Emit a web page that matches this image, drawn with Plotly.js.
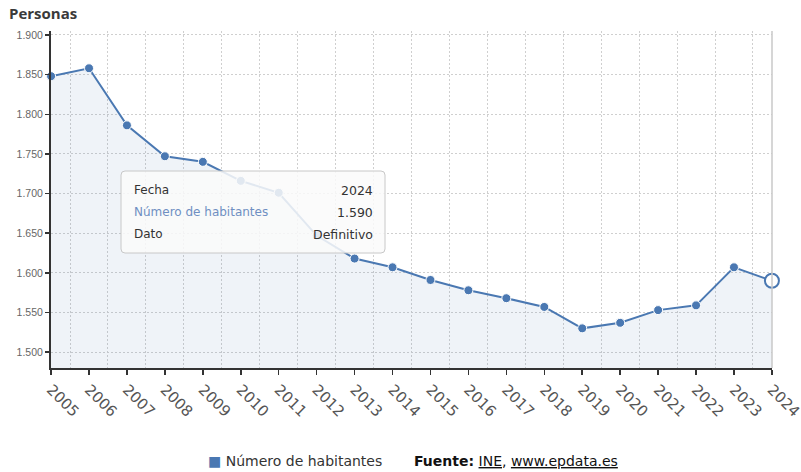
<!DOCTYPE html>
<html>
<head>
<meta charset="utf-8">
<script src="https://cdn.plot.ly/plotly-3.0.1.min.js"></script>
<style>html,body{margin:0;padding:0;background:#fff;}#chart{width:801px;height:472px;}</style>
</head>
<body>
<div id="chart"></div>
<script>
// Data
var years = [2005, 2006, 2007, 2008, 2009, 2010, 2011, 2012, 2013, 2014, 2015, 2016, 2017, 2018, 2019, 2020, 2021, 2022, 2023, 2024];
var habitantes = [1848, 1858, 1786, 1747, 1740, 1716, 1701, 1647, 1618, 1607, 1591, 1578, 1568, 1557, 1530, 1537, 1553, 1559, 1607, 1590];
var seriesName = "Número de habitantes";
var yTicks = [1500, 1550, 1600, 1650, 1700, 1750, 1800, 1850, 1900];
var tooltipRows = [["Fecha", "2024"], ["Número de habitantes", "1.590"], ["Dato", "Definitivo"]];

var blue = "#4a78b2";
var last = years.length - 1;

var traces = [
  {
    x: years, y: habitantes, name: seriesName, type: "scatter", mode: "lines+markers",
    line: {color: blue, width: 2},
    marker: {color: blue, size: 9, line: {color: "#fff", width: 1}},
    fill: "tozeroy", fillcolor: "rgba(74,120,178,0.085)",
    cliponaxis: false, hoverinfo: "skip"
  },
  {
    x: [years[last]], y: [habitantes[last]], type: "scatter", mode: "markers",
    marker: {color: "#fff", size: 14, line: {color: blue, width: 2}},
    cliponaxis: false, showlegend: false, hoverinfo: "skip"
  }
];

// pixel -> paper helpers (plot area: x 51..772, y 31..368)
function px(x) { return (x - 51) / 721; }
function py(y) { return (368 - y) / 337; }

function roundRect(x0, y0, x1, y1, r) {
  var rx = r / 721, ry = r / 337;
  var X0 = px(x0), X1 = px(x1), Y0 = py(y1), Y1 = py(y0);
  return "M" + (X0 + rx) + "," + Y1 + " L" + (X1 - rx) + "," + Y1 +
    " Q" + X1 + "," + Y1 + " " + X1 + "," + (Y1 - ry) +
    " L" + X1 + "," + (Y0 + ry) + " Q" + X1 + "," + Y0 + " " + (X1 - rx) + "," + Y0 +
    " L" + (X0 + rx) + "," + Y0 + " Q" + X0 + "," + Y0 + " " + X0 + "," + (Y0 + ry) +
    " L" + X0 + "," + (Y1 - ry) + " Q" + X0 + "," + Y1 + " " + (X0 + rx) + "," + Y1 + " Z";
}

var annotations = [
  {text: "<b>Personas</b>", xref: "paper", yref: "paper", x: px(7), y: py(13), xanchor: "left", yanchor: "middle",
   showarrow: false, font: {family: "Open Sans", size: 15, color: "#3a3a3a"}},
  {text: "<span style='color:" + blue + "'>■</span> " + seriesName, xref: "paper", yref: "paper",
   x: px(206), y: py(461), xanchor: "left", yanchor: "middle", showarrow: false,
   font: {family: "DejaVu Sans", size: 14, color: "#333"}},
  {text: "<b>Fuente:</b> <u>INE</u>, <u>www.epdata.es</u>", xref: "paper", yref: "paper",
   x: px(412), y: py(461), xanchor: "left", yanchor: "middle", showarrow: false,
   font: {family: "DejaVu Sans", size: 14, color: "#111"}}
];
var rowY = [190, 212, 234];
tooltipRows.forEach(function (r, i) {
  annotations.push({text: r[0], xref: "paper", yref: "paper", x: px(132), y: py(rowY[i]), xanchor: "left", yanchor: "middle",
    showarrow: false, font: {family: "DejaVu Sans", size: 12, color: i === 1 ? "#6f8fc2" : "#333"}});
  annotations.push({text: r[1], xref: "paper", yref: "paper", x: px(375), y: py(rowY[i]), xanchor: "right", yanchor: "middle",
    showarrow: false, font: {family: "DejaVu Sans", size: 12.5, color: "#333"}});
});

var layout = {
  width: 801, height: 472,
  margin: {l: 51, r: 29, t: 31, b: 104},
  paper_bgcolor: "#fff", plot_bgcolor: "#fff",
  separators: ",.",
  showlegend: false,
  hovermode: false,
  xaxis: {
    type: "linear", range: [years[0] - 0.002, years[last] + 0.002],
    tickmode: "array", tickvals: years, ticktext: years.map(String),
    tickangle: 45, ticks: "outside", ticklen: 5, tickcolor: "#333", tickwidth: 1.5,
    ticklabeloverflow: "allow", automargin: false,
    tickfont: {family: "DejaVu Sans", size: 15, color: "#555"},
    showgrid: false, zeroline: false,
    showline: true, linecolor: "#333", linewidth: 2,
    minor: {tickmode: "linear", tick0: years[0] + 0.5, dtick: 1, showgrid: true, griddash: "2px,2px", gridcolor: "#cfcfcf", gridwidth: 1, ticks: ""}
  },
  yaxis: {
    range: [1480, 1905],
    tickmode: "array", tickvals: yTicks, tickformat: ",.0f",
    ticks: "outside", ticklen: 4, tickcolor: "#333", tickwidth: 1.5,
    tickfont: {family: "Liberation Sans", size: 10.5, color: "#666"},
    showgrid: true, griddash: "2px,2px", gridcolor: "#cfcfcf", gridwidth: 1,
    zeroline: false, showline: true, linecolor: "#333", linewidth: 2
  },
  shapes: [
    {type: "line", xref: "paper", yref: "paper", x0: 1, x1: 1, y0: 0, y1: 1, line: {color: "#c8c8c8", width: 1.5}},
    {type: "path", xref: "paper", yref: "paper", layer: "above", path: roundRect(121, 171, 385, 253, 4),
     fillcolor: "rgba(250,250,250,0.86)", line: {color: "#c8c8c8", width: 1}}
  ],
  annotations: annotations
};

Plotly.newPlot("chart", traces, layout, {displayModeBar: false, staticPlot: true});
</script>
</body>
</html>
